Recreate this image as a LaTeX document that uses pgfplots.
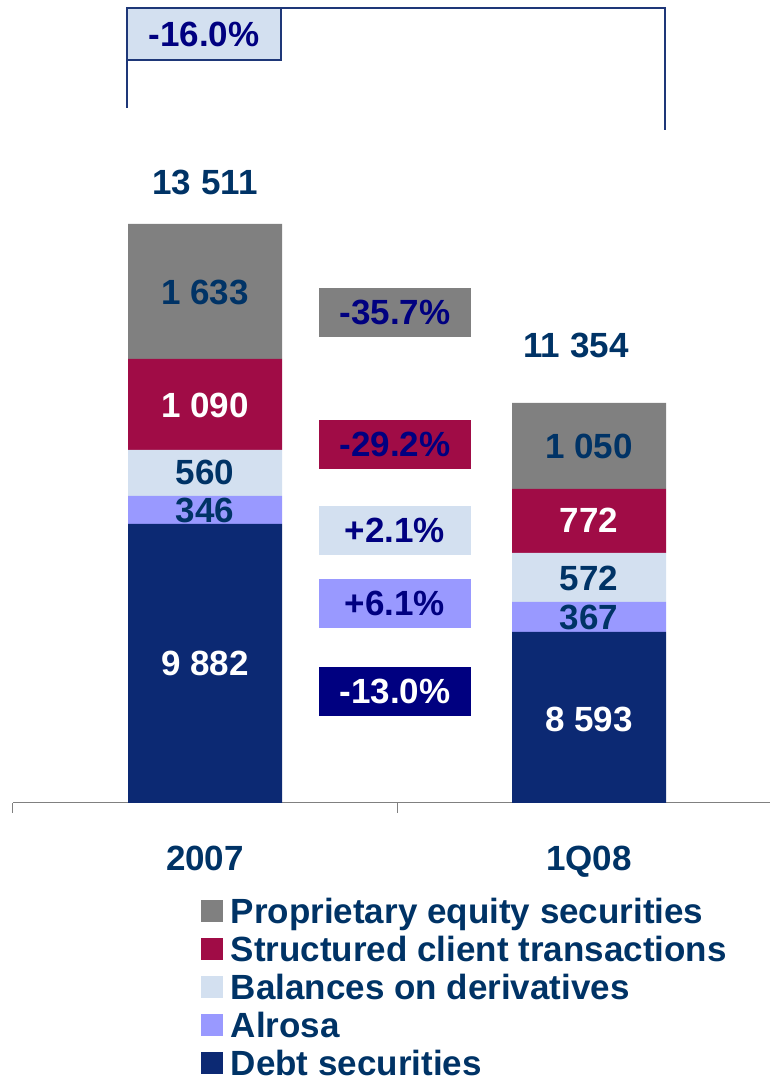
\documentclass[border=0pt]{standalone}
\usepackage{fontspec}
\setmainfont{Liberation Sans}
\usepackage{pgfplots}
\usepackage{pgfplotstable}
\pgfplotsset{compat=1.18}

\definecolor{cgrey}{RGB}{128,128,128}
\definecolor{cred}{RGB}{160,12,70}
\definecolor{clight}{RGB}{211,224,240}
\definecolor{clav}{RGB}{153,153,255}
\definecolor{cdebt}{RGB}{12,41,115}
\definecolor{cbox}{RGB}{0,0,128}
\definecolor{ctext}{RGB}{0,51,102}
\definecolor{cline}{RGB}{30,55,120}

\newcommand{\lbl}{\fontsize{35}{40}\selectfont\bfseries}
\pgfplotsset{sq legend/.style={legend image code/.code={\fill[##1] (0pt,1.5pt) rectangle (22pt,23.5pt);}}}
\tikzset{lab/.style={font=\lbl, inner sep=0pt},
  chg/.style={font=\lbl, inner sep=0pt, minimum width=152pt, minimum height=49pt}}

% segment heights as drawn on the slide (the slide does not draw them to scale)
\pgfplotstableread{
x debt alrosa bal struct prop
0 279 28 46 91 135
1 171 30 49 64 86
}\heights

\begin{document}
\begin{tikzpicture}
\begin{axis}[
  at={(13pt,275pt)}, anchor=south west,
  scale only axis, width=768pt, height=795pt,
  xmin=-0.5, xmax=1.5, ymin=0, ymax=795,
  ybar stacked, bar width=154pt,
  axis x line=bottom, axis y line=none,
  x axis line style={-, draw=gray, line width=1pt},
  xtick={0,1}, xticklabels={2007,1Q08},
  major tick length=0pt, tick align=outside,
  extra x ticks={-0.5,0.5,1.5}, extra x tick labels={},
  extra x tick style={major tick length=10pt},
  tick style={draw=gray, line width=1pt},
  xticklabel style={anchor=base, yshift=-67.5pt, font=\lbl, text=ctext, inner sep=0pt},
  clip=false,
  reverse legend,
  legend style={at={(axis cs:-0.011,-94.5)}, anchor=north west, draw=none, fill=none,
    inner sep=0pt, outer sep=0pt, font=\lbl, text=ctext, row sep=12pt, column sep=8pt,
    cells={anchor=base west},
    nodes={inner sep=0pt, text height=26pt, text depth=0pt}},
  after end axis/.code={
    % totals and segment values
    \node[lab, text=ctext] at (axis cs:0,621) {13 511};
    \node[lab, text=ctext] at (axis cs:0.966,458) {11 354};
    \node[lab, text=ctext] at (axis cs:0,511) {1 633};
    \node[lab, text=white] at (axis cs:0,398) {1 090};
    \node[lab, text=ctext] at (axis cs:0,331) {560};
    \node[lab, text=ctext] at (axis cs:0,293) {346};
    \node[lab, text=white] at (axis cs:0,140) {9 882};
    \node[lab, text=ctext] at (axis cs:1,357) {1 050};
    \node[lab, text=white] at (axis cs:1,283) {772};
    \node[lab, text=ctext] at (axis cs:1,225) {572};
    \node[lab, text=ctext] at (axis cs:1,186) {367};
    \node[lab, text=white] at (axis cs:1,84) {8 593};
    % change boxes
    \node[chg, fill=cgrey, text=cbox] at (axis cs:0.4948,490.5) {-35.7\%};
    \node[chg, fill=cred, text=cbox] at (axis cs:0.4948,358.5) {-29.2\%};
    \node[chg, fill=clight, text=cbox] at (axis cs:0.4948,272.5) {+2.1\%};
    \node[chg, fill=clav, text=cbox] at (axis cs:0.4948,199.5) {+6.1\%};
    \node[chg, fill=cbox, text=white] at (axis cs:0.4948,111.5) {-13.0\%};
    % total change bracket
    \draw[cline, line width=2pt] (axis cs:-0.2031,695) -- (axis cs:-0.2031,795) -- (axis cs:1.1979,795) -- (axis cs:1.1979,673);
    \filldraw[fill=clight, draw=cline, line width=2pt] (axis cs:-0.2031,743) rectangle (axis cs:0.1979,795);
    \node[lab, text=cbox] at (axis cs:-0.0026,769) {-16.0\%};
  },
]
\addplot[fill=cdebt, draw=none, sq legend] table[x=x, y=debt]{\heights};
\addplot[fill=clav, draw=none, sq legend] table[x=x, y=alrosa]{\heights};
\addplot[fill=clight, draw=none, sq legend] table[x=x, y=bal]{\heights};
\addplot[fill=cred, draw=none, sq legend] table[x=x, y=struct]{\heights};
\addplot[fill=cgrey, draw=none, sq legend] table[x=x, y=prop]{\heights};
\legend{Debt securities, Alrosa, Balances on derivatives, Structured client transactions, Proprietary equity securities}
\end{axis}
\pgfresetboundingbox
\path[use as bounding box] (0,0) rectangle (769pt,1078pt);
\end{tikzpicture}
\end{document}
